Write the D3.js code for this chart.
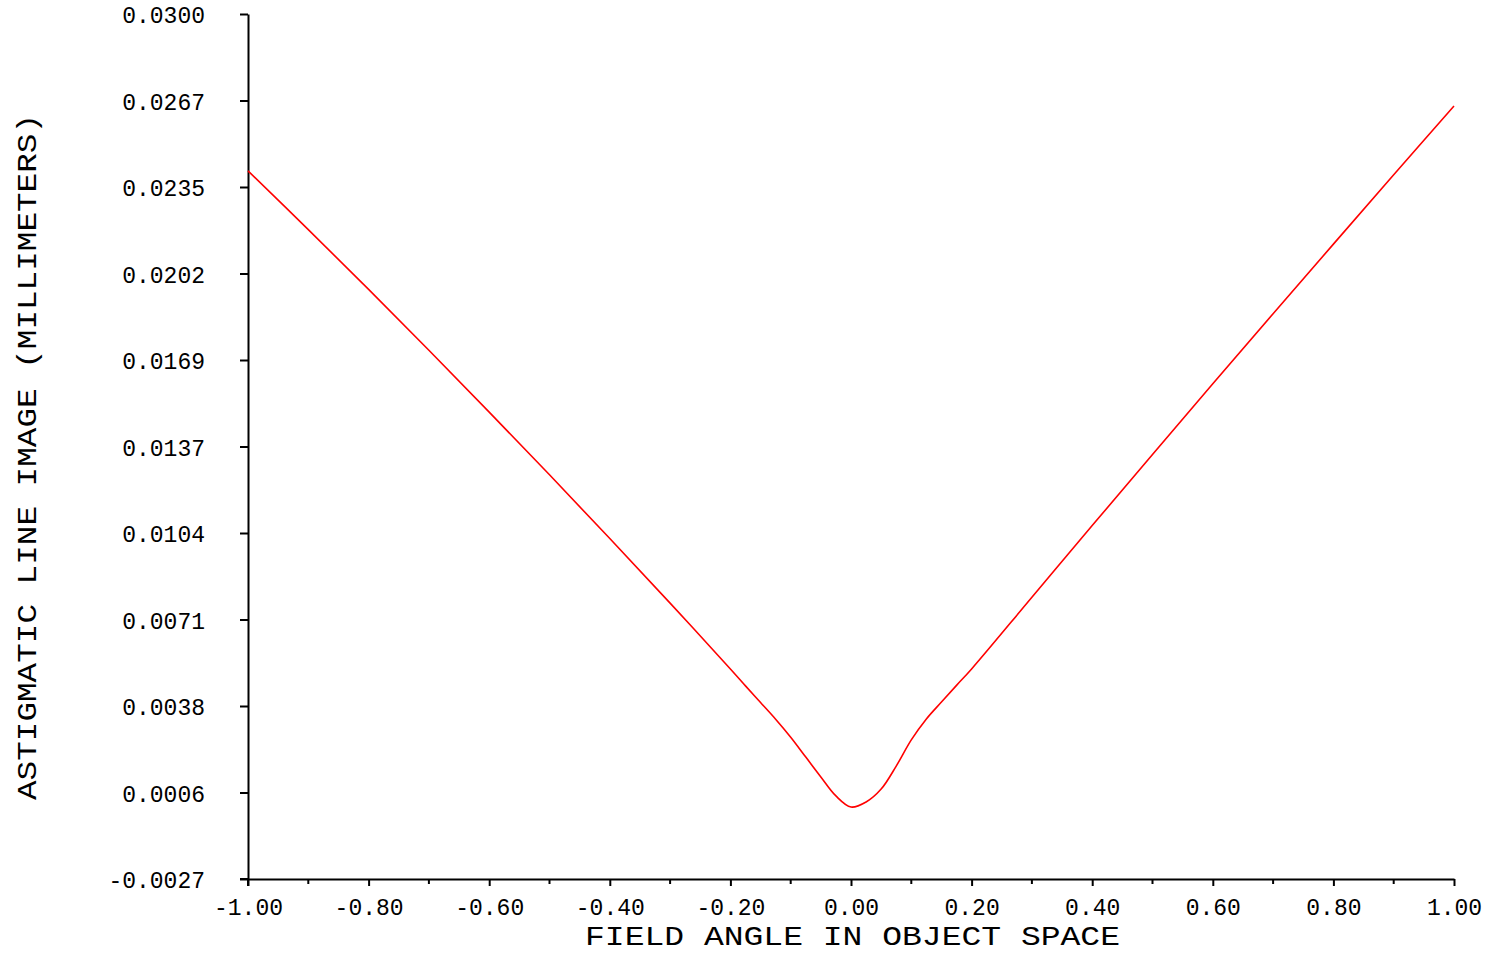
<!DOCTYPE html>
<html>
<head>
<meta charset="utf-8">
<script src="https://cdn.jsdelivr.net/npm/d3@7"></script>
<style>
  html, body { margin: 0; padding: 0; background: #fff; }
  svg { display: block; }
  .lbl { font-family: "Liberation Mono", "Courier New", monospace; fill: #000; }
</style>
</head>
<body>
<svg id="chart" width="1493" height="954"></svg>
<script>
// Field angle (normalized) and astigmatic line image size (mm)
const fieldAngle = [-1.00, -0.90, -0.80, -0.70, -0.60, -0.50, -0.40, -0.30, -0.20,
                    -0.175, -0.15, -0.125, -0.10, -0.075, -0.05, -0.025, 0.00,
                    0.025, 0.05, 0.075, 0.10, 0.125, 0.15, 0.175, 0.20,
                    0.30, 0.40, 0.50, 0.60, 0.70, 0.80, 0.90, 1.00];
const lineImage  = [0.02407, 0.02185, 0.01959, 0.01729, 0.01495, 0.01258, 0.01017, 0.00773, 0.00524,
                    0.00460, 0.00397, 0.00334, 0.00266, 0.00191, 0.00116, 0.00044, 0.00002,
                    0.00021, 0.00070, 0.00157, 0.00256, 0.00335, 0.00399, 0.00462, 0.00524,
                    0.00795, 0.01066, 0.01335, 0.01602, 0.01867, 0.02130, 0.02392, 0.02652];

const xTickLabels = ["-1.00", "-0.80", "-0.60", "-0.40", "-0.20", "0.00", "0.20", "0.40", "0.60", "0.80", "1.00"];
const yTickLabels = ["-0.0027", "0.0006", "0.0038", "0.0071", "0.0104", "0.0137", "0.0169", "0.0202", "0.0235", "0.0267", "0.0300"];
const xTitle = "FIELD ANGLE IN OBJECT SPACE";
const yTitle = "ASTIGMATIC LINE IMAGE (MILLIMETERS)";

const xMin = -1, xMax = 1, yMin = -0.0027, yMax = 0.0300;
const plot = { left: 248, right: 1454, top: 14, bottom: 879 };

const svg = d3.select("#chart");
const x = d3.scaleLinear().domain([xMin, xMax]).range([plot.left, plot.right]);
const y = d3.scaleLinear().domain([yMin, yMax]).range([plot.bottom, plot.top]);

const xMajor = d3.range(11).map(i => xMin + i * (xMax - xMin) / 10);
const xMinor = d3.range(10).map(i => xMin + (i + 0.5) * (xMax - xMin) / 10);
const yMajor = d3.range(11).map(i => yMin + i * (yMax - yMin) / 10);

const tickFont = 23, titleFont = 28;

// X axis: major ticks with labels, minor ticks in between
const gx = svg.append("g").attr("transform", `translate(0,${plot.bottom})`)
  .call(d3.axisBottom(x).tickValues(xMajor).tickSize(7).tickSizeOuter(0)
        .tickFormat((d, i) => xTickLabels[i]));
gx.append("g").selectAll("line").data(xMinor).join("line")
  .attr("x1", d => x(d)).attr("x2", d => x(d)).attr("y1", 0).attr("y2", 5);

// Y axis
const gy = svg.append("g").attr("transform", `translate(${plot.left},0)`)
  .call(d3.axisLeft(y).tickValues(yMajor).tickSize(8).tickSizeOuter(0).tickPadding(35)
        .tickFormat((d, i) => yTickLabels[i]));

[gx, gy].forEach(g => {
  g.select(".domain").attr("stroke", "#000").attr("stroke-width", 2);
  g.selectAll("line").attr("stroke", "#000").attr("stroke-width", 2);
  g.selectAll("text").attr("class", "lbl").attr("font-size", tickFont)
    .attr("font-family", "Liberation Mono").attr("fill", "#000");
});
gx.selectAll(".tick text").attr("y", 36).attr("dy", 0);
gy.selectAll(".tick text").attr("dy", 8.5);

// extend y axis line down to the bottom-left tick
svg.append("line").attr("x1", plot.left).attr("x2", plot.left)
  .attr("y1", plot.bottom).attr("y2", plot.bottom + 7)
  .attr("stroke", "#000").attr("stroke-width", 2);
svg.append("line").attr("x1", plot.left - 8).attr("x2", plot.left)
  .attr("y1", plot.bottom).attr("y2", plot.bottom)
  .attr("stroke", "#000").attr("stroke-width", 2);

// Axis titles
svg.append("text").attr("class", "lbl").attr("font-size", titleFont)
  .attr("x", 585).attr("y", 945)
  .attr("textLength", 535).attr("lengthAdjust", "spacingAndGlyphs")
  .text(xTitle);

svg.append("text").attr("class", "lbl").attr("font-size", titleFont)
  .attr("transform", "translate(36,800) rotate(-90)")
  .attr("x", 0).attr("y", 0)
  .attr("textLength", 686).attr("lengthAdjust", "spacingAndGlyphs")
  .text(yTitle);

// Curve
const pts = fieldAngle.map((a, i) => [a, lineImage[i]]);
svg.append("path").datum(pts)
  .attr("fill", "none").attr("stroke", "#ff0000").attr("stroke-width", 1.6)
  .attr("d", d3.line().x(d => x(d[0])).y(d => y(d[1])).curve(d3.curveCatmullRom.alpha(0.5)));
</script>
</body>
</html>
